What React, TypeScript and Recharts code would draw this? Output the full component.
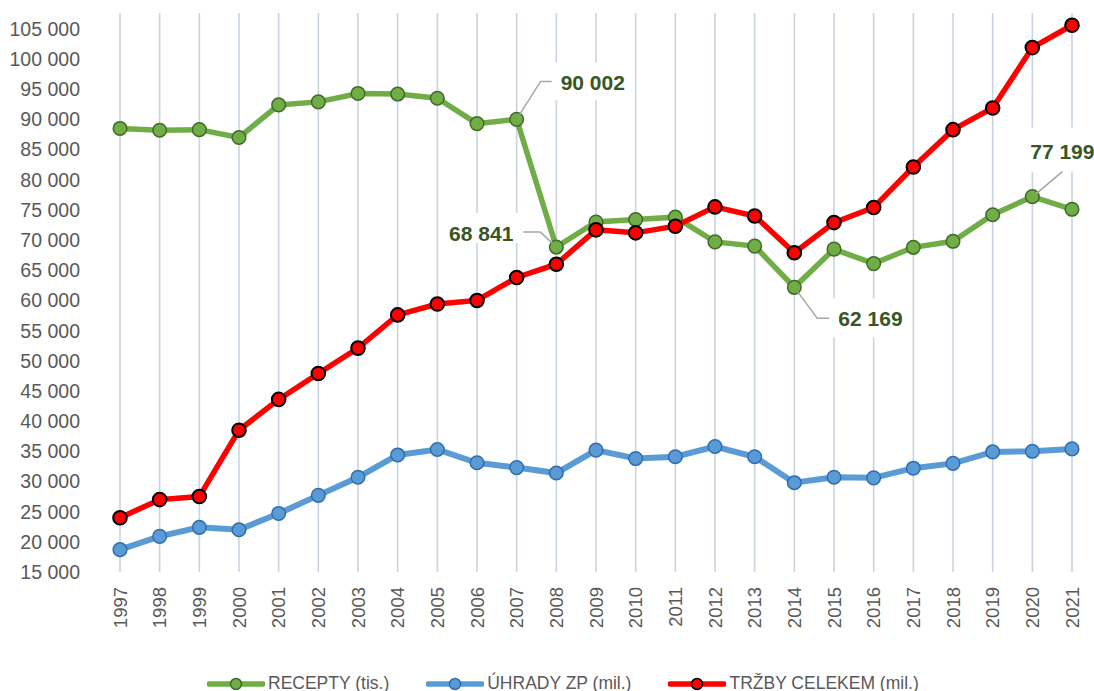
import React from 'react';
import { LineChart, Line, XAxis, YAxis, CartesianGrid, LabelList } from 'recharts';

const years = ['1997','1998','1999','2000','2001','2002','2003','2004','2005','2006','2007','2008','2009','2010','2011','2012','2013','2014','2015','2016','2017','2018','2019','2020','2021'];
const recepty = [88500, 88200, 88300, 87000, 92400, 92900, 94300, 94200, 93500, 89300, 90002, 68841, 73000, 73400, 73800, 69700, 69000, 62169, 68500, 66100, 68800, 69800, 74200, 77199, 75100];
const uhrady = [18700, 20900, 22400, 22000, 24700, 27700, 30700, 34400, 35300, 33100, 32300, 31400, 35200, 33800, 34100, 35800, 34100, 29800, 30700, 30600, 32200, 33000, 34900, 35000, 35400];
const trzby = [24000, 27000, 27500, 38500, 43600, 47900, 52100, 57600, 59400, 60000, 63800, 66000, 71700, 71200, 72300, 75500, 74000, 67900, 72900, 75400, 82100, 88300, 91900, 101900, 105600];
const yTicks = [15000, 20000, 25000, 30000, 35000, 40000, 45000, 50000, 55000, 60000, 65000, 70000, 75000, 80000, 85000, 90000, 95000, 100000, 105000];
const seriesNames = ['RECEPTY (tis.)', 'ÚHRADY ZP (mil.)', 'TRŽBY CELEKEM (mil.)'];
const annotatedYears = ['2007', '2008', '2014', '2020'];

const data = years.map((y, i) => ({ year: y, recepty: recepty[i], uhrady: uhrady[i], trzby: trzby[i] }));

const FONT = "'Liberation Sans', Arial, sans-serif";
const fmt = (v: number) => {
  const t = Math.floor(v / 1000);
  const r = String(Math.round(v % 1000)).padStart(3, '0');
  return `${t} ${r}`;
};

const GREEN = '#70AD47';
const GREEN_DARK = '#3E6B26';
const BLUE = '#5B9BD5';
const BLUE_DARK = '#2E6EB0';
const RED = '#FF0000';
const LABEL = '#375623';

type Place = { pts: number[][]; tx: number; ty: number; anchor: 'start' | 'end' | 'middle'; box: number[] };
const placement: Record<string, Place> = {
  '2007': { pts: [[3, -5], [24, -38], [35, -38]], tx: 44, ty: -37, anchor: 'start', box: [31, -57, 82, 38] },
  '2008': { pts: [[-4, -4], [-16, -15], [-33, -15]], tx: -43, ty: -14, anchor: 'end', box: [-113, -34, 77, 30] },
  '2014': { pts: [[3, 4], [23, 31], [35, 31]], tx: 44, ty: 31, anchor: 'start', box: [35, 11, 77, 39] },
  '2020': { pts: [[4, -3], [30, -25]], tx: 30, ty: -45, anchor: 'middle', box: [-12, -69, 74, 44] },
};

const renderAnnot = (props: any) => {
  const { x, y, index, value } = props;
  const yr = years[index];
  if (!annotatedYears.includes(yr)) return null;
  const p = placement[yr];
  const pts = p.pts.map(([dx, dy]) => `${x + dx},${y + dy}`).join(' ');
  return (
    <g key={`annot-${yr}`}>
      <rect x={x + p.box[0]} y={y + p.box[1]} width={p.box[2]} height={p.box[3]} fill="#ffffff" />
      <polyline points={pts} fill="none" stroke="#A6A6A6" strokeWidth={1.5} />
      <text x={x + p.tx} y={y + p.ty} textAnchor={p.anchor} dy="0.36em" fontFamily={FONT} fontWeight={700} fontSize={21} fill={LABEL}>
        {fmt(Number(value))}
      </text>
    </g>
  );
};

const XTick = (props: any) => {
  const { x, y, payload } = props;
  return (
    <text x={x} y={y} transform={`rotate(-90, ${x}, ${y})`} textAnchor="end" dy="0.36em" fontFamily={FONT} fontSize={18.5} fill="#595959">
      {payload.value}
    </text>
  );
};

const LegendIcon = ({ color, stroke }: { color: string; stroke: string }) => (
  <svg width={58} height={16} style={{ display: 'block' }}>
    <line x1={2} y1={8} x2={56} y2={8} stroke={color} strokeWidth={5.5} strokeLinecap="round" />
    <circle cx={29} cy={8} r={5.5} fill={color} stroke={stroke} strokeWidth={1.5} />
  </svg>
);

export default function App() {
  const legendItems = [
    { name: seriesNames[0], color: GREEN, stroke: GREEN_DARK },
    { name: seriesNames[1], color: BLUE, stroke: BLUE_DARK },
    { name: seriesNames[2], color: RED, stroke: '#000000' },
  ];
  return (
    <div style={{ position: 'absolute', left: 0, top: 0, width: 1094, height: 691, background: '#fff' }}>
      <LineChart width={1094} height={691} data={data} margin={{ top: 13, right: 22, left: 0, bottom: 59 }}>
        <CartesianGrid vertical horizontal={false} stroke="#C9D4E0" strokeWidth={1.6} />
        <XAxis dataKey="year" type="category" interval={0} axisLine={false} tickLine={false} tickSize={0} tickMargin={15} height={60} padding={{ left: 0, right: 0 }} tick={<XTick />} />
        <YAxis type="number" domain={[15000, 107630]} allowDataOverflow ticks={yTicks} interval={0} width={120} axisLine={false} tickLine={false} tickSize={0} tickMargin={40} tickFormatter={fmt} tick={{ fontFamily: FONT, fontSize: 19.5, fill: '#595959' }} />
        <Line dataKey="recepty" name={seriesNames[0]} stroke={GREEN} strokeWidth={5.5} isAnimationActive={false} dot={{ r: 6.8, fill: GREEN, stroke: GREEN_DARK, strokeWidth: 1.5 }}>
          <LabelList dataKey="recepty" content={renderAnnot} />
        </Line>
        <Line dataKey="uhrady" name={seriesNames[1]} stroke={BLUE} strokeWidth={6} isAnimationActive={false} dot={{ r: 6.8, fill: BLUE, stroke: BLUE_DARK, strokeWidth: 1.5 }} />
        <Line dataKey="trzby" name={seriesNames[2]} stroke={RED} strokeWidth={5.5} isAnimationActive={false} dot={{ r: 6.8, fill: RED, stroke: '#000000', strokeWidth: 2 }} />
      </LineChart>
      <div style={{ position: 'absolute', left: 207, top: 673, display: 'flex', alignItems: 'center', gap: 37, fontFamily: FONT, fontSize: 17.5, color: '#595959', whiteSpace: 'nowrap' }}>
        {legendItems.map((it) => (
          <div key={it.name} style={{ display: 'flex', alignItems: 'center', gap: 3 }}>
            <LegendIcon color={it.color} stroke={it.stroke} />
            <span>{it.name}</span>
          </div>
        ))}
      </div>
    </div>
  );
}
